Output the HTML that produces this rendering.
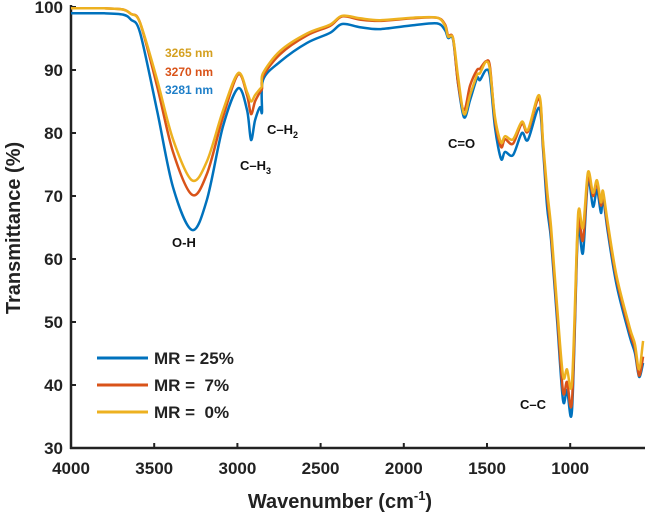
<!DOCTYPE html>
<html><head><meta charset="utf-8"><style>
html,body{margin:0;padding:0;background:#fff;}
svg{display:block;font-family:"Liberation Sans",Arial,sans-serif;}
</style></head><body>
<svg id="chart" width="645" height="520" viewBox="0 0 645 520">
<g id="axes"></g>
<g id="series"></g>
<g id="labels">
<text x="165" y="57" font-size="12" font-weight="bold" fill="#d4a020">3265 nm</text>
<text x="165" y="76" font-size="12" font-weight="bold" fill="#d95319">3270 nm</text>
<text x="165" y="94" font-size="12" font-weight="bold" fill="#1f7fc8">3281 nm</text>
<text x="172" y="247" font-size="13" font-weight="bold" fill="#111">O-H</text>
<text x="240" y="170" font-size="13" font-weight="bold" fill="#111">C–H<tspan font-size="9" dy="4">3</tspan></text>
<text x="267" y="134" font-size="13" font-weight="bold" fill="#111">C–H<tspan font-size="9" dy="4">2</tspan></text>
<text x="448" y="148" font-size="13" font-weight="bold" fill="#111">C=O</text>
<text x="520" y="409" font-size="13" font-weight="bold" fill="#111">C–C</text>
</g>
<g id="legend">
<line x1="97" y1="358" x2="148" y2="358" stroke="#0072BD" stroke-width="3"/>
<text x="154" y="364" font-size="17" font-weight="bold" fill="#222" xml:space="preserve">MR = 25%</text>
<line x1="97" y1="385" x2="148" y2="385" stroke="#D95319" stroke-width="3"/>
<text x="154" y="391" font-size="17" font-weight="bold" fill="#222" xml:space="preserve">MR =  7%</text>
<line x1="97" y1="412" x2="148" y2="412" stroke="#EDB120" stroke-width="3"/>
<text x="154" y="418" font-size="17" font-weight="bold" fill="#222" xml:space="preserve">MR =  0%</text>
</g>
<text x="340" y="508" font-size="20" font-weight="bold" fill="#222" text-anchor="middle">Wavenumber (cm<tspan font-size="13" dy="-8">-1</tspan><tspan dy="8">)</tspan></text>
<text transform="translate(20,228) rotate(-90)" font-size="20" font-weight="bold" fill="#222" text-anchor="middle">Transmittance (%)</text>
</svg>
<script>
const wn=[4000,3800,3687,3640,3585,3483,3387,3273,3183,3087,2996,2942,2918,2894,2864,2852,2846,2744,2582,2443,2371,2263,2143,1945,1800,1752,1734,1704,1674,1638,1602,1560,1542,1506,1482,1452,1416,1392,1344,1290,1254,1187,1163,1139,1115,1079,1043,1019,989,959,947,923,893,863,839,815,803,773,719,641,611,586,562];
const mr25=[99.0,99.0,98.8,98.0,95.9,83.6,71.4,64.6,69.4,81.0,87.1,83.6,78.9,82.0,84.1,83.3,88.4,91.3,94.3,95.9,97.3,96.8,96.5,97.1,97.4,96.3,95.1,94.8,87.9,82.5,85.2,88.7,88.4,90.0,88.9,80.9,75.9,77.0,76.5,80.0,78.9,84.0,77.3,68.3,63.0,50.3,37.6,39.2,36.0,61.0,65.1,61.0,72.5,68.3,71.0,67.3,69.8,64.1,55.6,47.6,45.1,41.3,43.5];
const mr7=[99.8,99.8,99.6,98.9,97.5,87.5,77.0,70.2,73.5,82.5,89.3,86.0,83.0,85.0,86.5,87.0,89.0,92.5,95.5,97.0,98.5,98.0,97.8,98.2,98.3,97.2,95.5,95.0,88.0,83.6,87.5,90.0,90.2,91.4,90.5,82.0,77.8,79.0,78.3,81.5,80.2,85.5,78.0,70.0,64.0,51.5,39.0,40.5,37.5,62.0,66.5,63.0,73.0,70.0,72.0,68.5,70.5,64.8,56.5,48.3,45.8,41.5,44.5];
const mr0=[99.8,99.8,99.6,98.9,97.5,88.5,79.0,72.5,75.5,83.5,89.5,86.5,85.0,86.0,87.0,87.5,89.5,93.0,95.8,97.2,98.6,98.2,97.9,98.3,98.3,97.0,95.3,95.0,89.0,83.0,86.0,89.2,89.5,91.3,90.0,82.5,78.5,79.5,79.0,81.8,80.5,86.0,78.5,71.0,65.0,52.5,41.5,42.5,40.5,63.0,68.0,65.0,73.8,70.5,72.5,69.0,70.8,65.5,57.0,49.0,46.5,42.5,47.0];
const xTicks=[4000,3500,3000,2500,2000,1500,1000];
const yTicks=[30,40,50,60,70,80,90,100];

const NS="http://www.w3.org/2000/svg";
function xs(w){return 71+(4000-w)*0.1664;}
function ys(t){return 448-(t-30)*6.3;}
const axes=document.getElementById('axes');
function mk(tag,attrs,parent){const e=document.createElementNS(NS,tag);for(const k in attrs)e.setAttribute(k,attrs[k]);parent.appendChild(e);return e;}
const yAxis=mk('line',{x1:71,y1:5,x2:71,y2:449,stroke:'#222','stroke-width':2.5},axes);


const xAxis=mk('line',{x1:70,y1:448,x2:645,y2:448,stroke:'#222','stroke-width':2.5},axes);


xTicks.forEach(v=>{
  const x=xs(v);
  const t=mk('line',{x1:x,y1:448,x2:x,y2:443,stroke:'#222','stroke-width':2},axes);
  
  
  const l=mk('text',{x:x,y:474,'font-size':17,'font-weight':'bold',fill:'#222','text-anchor':'middle'},axes);
  l.textContent=v;
  
  
});
yTicks.forEach(v=>{
  const y=ys(v);
  const t=mk('line',{x1:71,y1:y,x2:76,y2:y,stroke:'#222','stroke-width':2},axes);
  
  
  const l=mk('text',{x:63,y:y+6,'font-size':17,'font-weight':'bold',fill:'#222','text-anchor':'end'},axes);
  l.textContent=v;
  
  
});
const sg=document.getElementById('series');
function drawLine(vals,color,name){
  const P=wn.map((w,i)=>[xs(w),ys(vals[i])]);
  let d='M'+P[0][0].toFixed(1)+','+P[0][1].toFixed(1);
  const k=0.16;
  for(let i=0;i<P.length-1;i++){
    const p0=P[Math.max(0,i-1)],p1=P[i],p2=P[i+1],p3=P[Math.min(P.length-1,i+2)];
    const c1=[p1[0]+(p2[0]-p0[0])*k,p1[1]+(p2[1]-p0[1])*k];
    const c2=[p2[0]-(p3[0]-p1[0])*k,p2[1]-(p3[1]-p1[1])*k];
    d+=' C'+c1[0].toFixed(1)+','+c1[1].toFixed(1)+' '+c2[0].toFixed(1)+','+c2[1].toFixed(1)+' '+p2[0].toFixed(1)+','+p2[1].toFixed(1);
  }
  const p=mk('path',{d:d,fill:'none',stroke:color,'stroke-width':2.5,'stroke-linejoin':'round'},sg);
  
  
}
drawLine(mr25,'#0072BD','series-mr-25');
drawLine(mr7,'#D95319','series-mr-7');
drawLine(mr0,'#EDB120','series-mr-0');
</script>
</body></html>
